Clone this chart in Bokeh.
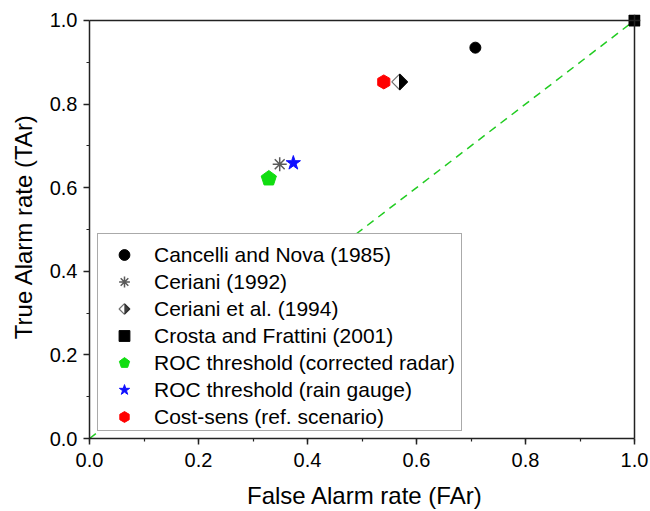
import numpy as np
from bokeh.plotting import figure
from bokeh.models import (Range1d, SingleIntervalTicker, PrintfTickFormatter,
                          Legend, LegendItem, Span)
from bokeh.embed import file_html
from bokeh.resources import INLINE

# ---------------- data ----------------
cancelli_far = [0.708]
cancelli_tar = [0.935]
ceriani92_far = [0.349]
ceriani92_tar = [0.656]
ceriani94_far = [0.569]
ceriani94_tar = [0.853]
crosta_far = [1.0]
crosta_tar = [1.0]
roc_radar_far = [0.329]
roc_radar_tar = [0.622]
roc_gauge_far = [0.374]
roc_gauge_tar = [0.659]
costsens_far = [0.540]
costsens_tar = [0.853]
diag_far = [0.0, 1.0]
diag_tar = [0.0, 1.0]

labels = ["Cancelli and Nova (1985)", "Ceriani (1992)", "Ceriani et al. (1994)",
          "Crosta and Frattini (2001)", "ROC threshold (corrected radar)",
          "ROC threshold (rain gauge)", "Cost-sens (ref. scenario)"]

FONT = "Liberation Sans"
PX_X, PX_Y = 545, 419   # pixels per data unit on each axis
EXT = 6                 # extra frame px beyond 1.0 so the corner marker is not clipped

p = figure(width=650, height=511,
           x_range=Range1d(0, 1 + EXT / PX_X), y_range=Range1d(0, 1 + EXT / PX_Y),
           output_backend="svg", toolbar_location=None,
           min_border_left=89, min_border_right=16 - EXT, min_border_top=20 - EXT,
           min_border_bottom=72)
p.xgrid.visible = False
p.ygrid.visible = False
p.outline_line_color = None
p.background_fill_color = "white"
p.border_fill_color = "white"

for ax in (p.xaxis[0], p.yaxis[0]):
    ax.bounds = (0, 1)
    ax.ticker = SingleIntervalTicker(interval=0.2, num_minor_ticks=2)
    ax.formatter = PrintfTickFormatter(format="%.1f")
    ax.axis_line_color = "#222222"
    ax.axis_line_width = 1.5
    ax.major_tick_line_color = "#222222"
    ax.minor_tick_line_color = "#222222"
    ax.major_tick_line_width = 1.5
    ax.minor_tick_line_width = 1.2
    ax.major_tick_in = 0
    ax.major_tick_out = 6
    ax.minor_tick_in = 0
    ax.minor_tick_out = 3
    ax.major_label_text_font = FONT
    ax.major_label_text_font_size = "20px"
    ax.major_label_text_color = "black"
    ax.axis_label_text_font = FONT
    ax.axis_label_text_font_size = "24px"
    ax.axis_label_text_font_style = "normal"
    ax.axis_label_text_color = "black"

p.xaxis.axis_label = "False Alarm rate (FAr)"
p.yaxis.axis_label = "True Alarm rate (TAr)"
p.xaxis.major_label_standoff = 8
p.xaxis.axis_label_standoff = 12
p.yaxis.major_label_standoff = 6
p.yaxis.axis_label_standoff = 10

# top and right box lines at 1.0
p.add_layout(Span(location=1.0, dimension="height", line_color="#222222", line_width=1.5))
p.add_layout(Span(location=1.0, dimension="width", line_color="#222222", line_width=1.5))


def px_poly(cx, cy, pts):
    """polygon around a data point, vertex offsets given in px"""
    return [cx + dx / PX_X for dx, dy in pts], [cy + dy / PX_Y for dx, dy in pts]


# diagonal reference line
p.line(diag_far, diag_tar, line_color="#22cc22", line_width=1.5, line_dash="8 6")

r_cancelli = p.scatter(cancelli_far, cancelli_tar, marker="circle", size=11,
                       fill_color="black", line_color="black")
r_ceriani92 = p.scatter(ceriani92_far, ceriani92_tar, marker="asterisk", size=14,
                        line_color="#5a5a5a", line_width=1.5)

# half-filled diamond: white diamond with grey outline + black right half
r_ceriani94 = p.ngon(ceriani94_far, ceriani94_tar, radius=7.8, radius_units="screen", n=4,
                     angle=0, fill_color="white", line_color="#707070", line_width=1.2)
xs_r, ys_r = [], []
for cx, cy in zip(ceriani94_far, ceriani94_tar):
    a, b = px_poly(cx, cy, [(0, 7.8), (7.8, 0), (0, -7.8)])
    xs_r.append(a); ys_r.append(b)
p.patches(xs_r, ys_r, fill_color="black", line_color="black", line_width=1.2)

# legend-only pieces: 1px columns that fill the right half of the legend diamond
GW, GH = 52, 27
LEG_R = 0.2 * min(GW, GH)          # radius of the legend n-gon icons
stair_renderers = []
for k in range(int(np.ceil(LEG_R))):
    w = 2 * (LEG_R - k - 0.5)
    if w <= 0:
        break
    stair_renderers.append(
        p.line(ceriani94_far * 2, ceriani94_tar * 2, line_color="black", line_width=w,
               line_cap="butt", line_dash=f"0 {GW // 2 + k} 1 999"))

r_crosta = p.scatter(crosta_far, crosta_tar, marker="square", size=11,
                     fill_color="black", line_color="black")
r_radar = p.ngon(roc_radar_far, roc_radar_tar, radius=8, radius_units="screen", n=5,
                 angle=0, fill_color="#11dd11", line_color="#11dd11")
r_gauge = p.scatter(roc_gauge_far, roc_gauge_tar, marker="star", size=15,
                    fill_color="#1010ff", line_color="#1010ff")
r_cost = p.ngon(costsens_far, costsens_tar, radius=7, radius_units="screen", n=6,
                angle=0, fill_color="#ff0000", line_color="#ff0000")

renderers = [[r_cancelli], [r_ceriani92], [r_ceriani94] + stair_renderers, [r_crosta],
             [r_radar], [r_gauge], [r_cost]]
items = [LegendItem(label=lab, renderers=r) for lab, r in zip(labels, renderers)]

LEG_X, LEG_Y = 8, 7          # offset of legend from frame bottom-left (px)
legend = Legend(items=items, location=(LEG_X, LEG_Y), orientation="vertical",
                padding=0, spacing=0, glyph_width=GW, glyph_height=GH,
                label_standoff=4, label_width=307,
                label_text_font=FONT, label_text_font_size="21px", label_text_color="black",
                title=" ", title_text_font_size="7px", title_standoff=0,
                border_line_color="#555555", border_line_width=1,
                background_fill_color="white", background_fill_alpha=1.0, margin=0)
p.add_layout(legend)

open("out.html", "w").write(file_html(p, INLINE))
